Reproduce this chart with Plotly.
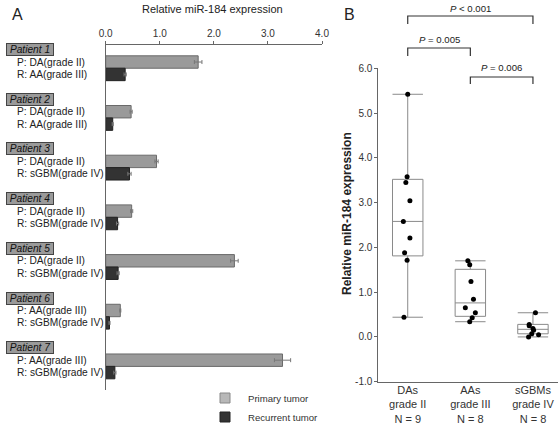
import plotly.graph_objects as go

W, H = 558, 426

# ---------------- Panel A data ----------------
patients = ["Patient 1", "Patient 2", "Patient 3", "Patient 4", "Patient 5", "Patient 6", "Patient 7"]
primary_labels = ["P: DA(grade II)", "P: DA(grade II)", "P: DA(grade II)", "P: DA(grade II)",
                  "P: DA(grade II)", "P: AA(grade III)", "P: AA(grade III)"]
recurrent_labels = ["R: AA(grade III)", "R: AA(grade III)", "R: sGBM(grade IV)", "R: sGBM(grade IV)",
                    "R: sGBM(grade IV)", "R: sGBM(grade IV)", "R: sGBM(grade IV)"]
primary_vals = [1.71, 0.47, 0.94, 0.48, 2.38, 0.27, 3.27]
primary_err = [0.07, 0.02, 0.03, 0.02, 0.07, 0.01, 0.15]
recurrent_vals = [0.36, 0.13, 0.44, 0.22, 0.23, 0.07, 0.17]
recurrent_err = [0.02, 0.01, 0.03, 0.02, 0.02, 0.01, 0.02]
xticks_a = [0, 1, 2, 3, 4]
legend_names = ["Primary tumor", "Recurrent tumor"]

# ---------------- Panel B data ----------------
groups = ["DAs<br>grade II<br>N = 9", "AAs<br>grade III<br>N = 8", "sGBMs<br>grade IV<br>N = 8"]
q1 = [1.81, 0.46, 0.07]
median = [2.58, 0.76, 0.17]
q3 = [3.52, 1.51, 0.28]
lower = [0.44, 0.34, 0.00]
upper = [5.42, 1.70, 0.54]
da_pts = [5.42, 3.58, 3.45, 3.04, 2.58, 2.21, 1.88, 1.71, 0.44]
da_jit = [0.0, -0.01, -0.03, 0.035, -0.07, 0.035, -0.05, -0.01, -0.06]
aa_pts = [1.70, 1.61, 1.24, 0.84, 0.65, 0.54, 0.43, 0.34]
aa_jit = [-0.04, -0.01, 0.01, 0.05, -0.08, 0.08, 0.03, -0.01]
gbm_pts = [0.54, 0.28, 0.25, 0.19, 0.15, 0.07, 0.05, 0.00]
gbm_jit = [0.04, -0.06, -0.06, 0.0, 0.01, -0.02, 0.09, -0.07]
pvals = ["<i>P</i> < 0.001", "<i>P</i> = 0.005", "<i>P</i> = 0.006"]
yticks_b = [-1, 0, 1, 2, 3, 4, 5, 6]

# pixel helpers (paper coords)
def px(x):
    return x / W

def py(y):
    return 1 - y / H

FONT = "Liberation Sans, Arial, sans-serif"
TXT = "#222222"
PRIM_FILL, PRIM_LINE = "#9a9a9a", "#6a6a6a"
REC_FILL, REC_LINE = "#333333", "#222222"

fig = go.Figure()

# Panel A rows: label at 4*i, P at 4*i+1, R at 4*i+2
p_pos = [4 * i + 1 for i in range(len(patients))]
r_pos = [4 * i + 2 for i in range(len(patients))]
lab_pos = [4 * i for i in range(len(patients))]

fig.add_trace(go.Bar(
    x=primary_vals, y=p_pos, orientation="h", width=1.0, name=legend_names[0],
    marker=dict(color=PRIM_FILL, line=dict(color=PRIM_LINE, width=1)),
    error_x=dict(type="data", array=primary_err, color="#777777", thickness=1, width=2),
    xaxis="x", yaxis="y", showlegend=False))
fig.add_trace(go.Bar(
    x=recurrent_vals, y=r_pos, orientation="h", width=1.0, name=legend_names[1],
    marker=dict(color=REC_FILL, line=dict(color=REC_LINE, width=1)),
    error_x=dict(type="data", array=recurrent_err, color="#777777", thickness=1, width=2),
    xaxis="x", yaxis="y", showlegend=False))

# Panel B boxes
for i in range(3):
    fig.add_trace(go.Box(
        x=[i], q1=[q1[i]], median=[median[i]], q3=[q3[i]],
        lowerfence=[lower[i]], upperfence=[upper[i]],
        width=0.486, whiskerwidth=1, fillcolor="white",
        line=dict(color="#8a8a8a", width=1),
        boxpoints=False, xaxis="x2", yaxis="y2", showlegend=False))

for i, (pts, jit) in enumerate([(da_pts, da_jit), (aa_pts, aa_jit), (gbm_pts, gbm_jit)]):
    fig.add_trace(go.Scatter(
        x=[i + j for j in jit], y=pts, mode="markers",
        marker=dict(color="black", size=5), xaxis="x2", yaxis="y2",
        showlegend=False, cliponaxis=False))

ann = []
shapes = []

# Patient labels and row labels
for i in range(len(patients)):
    ann.append(dict(x=px(6), y=lab_pos[i], xref="paper", yref="y", xanchor="left", yanchor="middle",
                    text="<i>" + patients[i] + "</i>", showarrow=False,
                    font=dict(family=FONT, size=10.2, color="#111111"),
                    bgcolor="#9a9a9a", bordercolor="#444444", borderwidth=1, borderpad=0,
                    width=46, height=11))
    ann.append(dict(x=px(15), y=p_pos[i], xref="paper", yref="y", xanchor="left", yanchor="middle",
                    text=primary_labels[i], showarrow=False,
                    font=dict(family=FONT, size=10.2, color=TXT)))
    ann.append(dict(x=px(15), y=r_pos[i], xref="paper", yref="y", xanchor="left", yanchor="middle",
                    text=recurrent_labels[i], showarrow=False,
                    font=dict(family=FONT, size=10.2, color=TXT)))

# Manual legend (squares + labels)
leg_rows = [(398, "#b8b8b8", "#888888"), (417, REC_FILL, REC_LINE)]
for (yc, fill, line), name in zip(leg_rows, legend_names):
    shapes.append(dict(type="rect", xref="paper", yref="paper",
                       x0=px(220), x1=px(230), y0=py(yc + 5), y1=py(yc - 5),
                       fillcolor=fill, line=dict(color=line, width=1)))
    ann.append(dict(x=px(246), y=py(yc), xref="paper", yref="paper", xanchor="left",
                    yanchor="middle", text=name, showarrow=False,
                    font=dict(family=FONT, size=9.6, color="#333333")))

# Panel letters and titles
ann.append(dict(x=px(10), y=py(15), xref="paper", yref="paper", xanchor="left", yanchor="middle",
                text="A", showarrow=False, font=dict(family=FONT, size=16, color=TXT)))
ann.append(dict(x=px(342), y=py(15), xref="paper", yref="paper", xanchor="left", yanchor="middle",
                text="B", showarrow=False, font=dict(family=FONT, size=16, color=TXT)))
ann.append(dict(x=px(212), y=py(9), xref="paper", yref="paper", xanchor="center", yanchor="middle",
                text="Relative miR-184 expression", showarrow=False,
                font=dict(family=FONT, size=11, color=TXT)))
ann.append(dict(x=px(347), y=py(214), xref="paper", yref="paper", xanchor="center", yanchor="middle",
                text="<b>Relative miR-184 expression</b>", textangle=-90, showarrow=False,
                font=dict(family=FONT, size=12, color=TXT)))

# Significance brackets (x in data coords of panel B)
brackets = [(0, 2, 16, 24, 8), (0, 1, 48, 56, 39.5), (1, 2, 77, 84, 68)]
for (a, b, ytop, ybot, ytxt), lab in zip(brackets, pvals):
    shapes.append(dict(type="path", xref="x2", yref="paper",
                       path=f"M {a},{py(ybot)} L {a},{py(ytop)} L {b},{py(ytop)} L {b},{py(ybot)}",
                       line=dict(color="#333333", width=1.2)))
    ann.append(dict(x=(a + b) / 2, y=py(ytxt), xref="x2", yref="paper", xanchor="center",
                    yanchor="middle", text=lab, showarrow=False,
                    font=dict(family=FONT, size=9.6, color=TXT)))

fig.update_layout(
    width=W, height=H, margin=dict(l=0, r=0, t=0, b=0, autoexpand=False),
    paper_bgcolor="white", plot_bgcolor="white", showlegend=False,
    barmode="overlay", font=dict(family=FONT, size=11, color=TXT),
    xaxis=dict(domain=[px(105.7), px(322)], range=[0, 4], side="top",
               tickvals=xticks_a, ticktext=[f"{v:.1f}" for v in xticks_a],
               showline=True, linecolor="#666666", linewidth=1, ticks="outside",
               ticklen=3, tickcolor="#666666", showgrid=False, zeroline=False,
               tickfont=dict(size=10, color="#333333"), anchor="y", automargin=False),
    yaxis=dict(domain=[py(390), py(45)], range=[27.4, -0.37], showticklabels=False,
               showline=True, linecolor="#666666", linewidth=1, showgrid=False,
               zeroline=False, ticks="", anchor="x", automargin=False),
    xaxis2=dict(domain=[px(378.3), 1.0], range=[-0.47, 2.40], tickvals=[0, 1, 2],
                ticktext=groups, showline=True, linecolor="#666666", linewidth=1,
                ticks="", showgrid=False, zeroline=False, anchor="y2", automargin=False,
                ticklabelstandoff=-2,
                tickfont=dict(size=11, color="#333333")),
    yaxis2=dict(domain=[py(381.7), py(68.3)], range=[-1, 6], tickvals=yticks_b,
                ticktext=[f"{v:.1f}" for v in yticks_b], showline=True,
                linecolor="#666666", linewidth=1, ticks="outside", ticklen=3,
                tickcolor="#666666", showgrid=False, zeroline=False, anchor="x2",
                automargin=False, tickfont=dict(size=10, color="#333333")),
    annotations=ann, shapes=shapes,
)

fig.write_html("out.html")
